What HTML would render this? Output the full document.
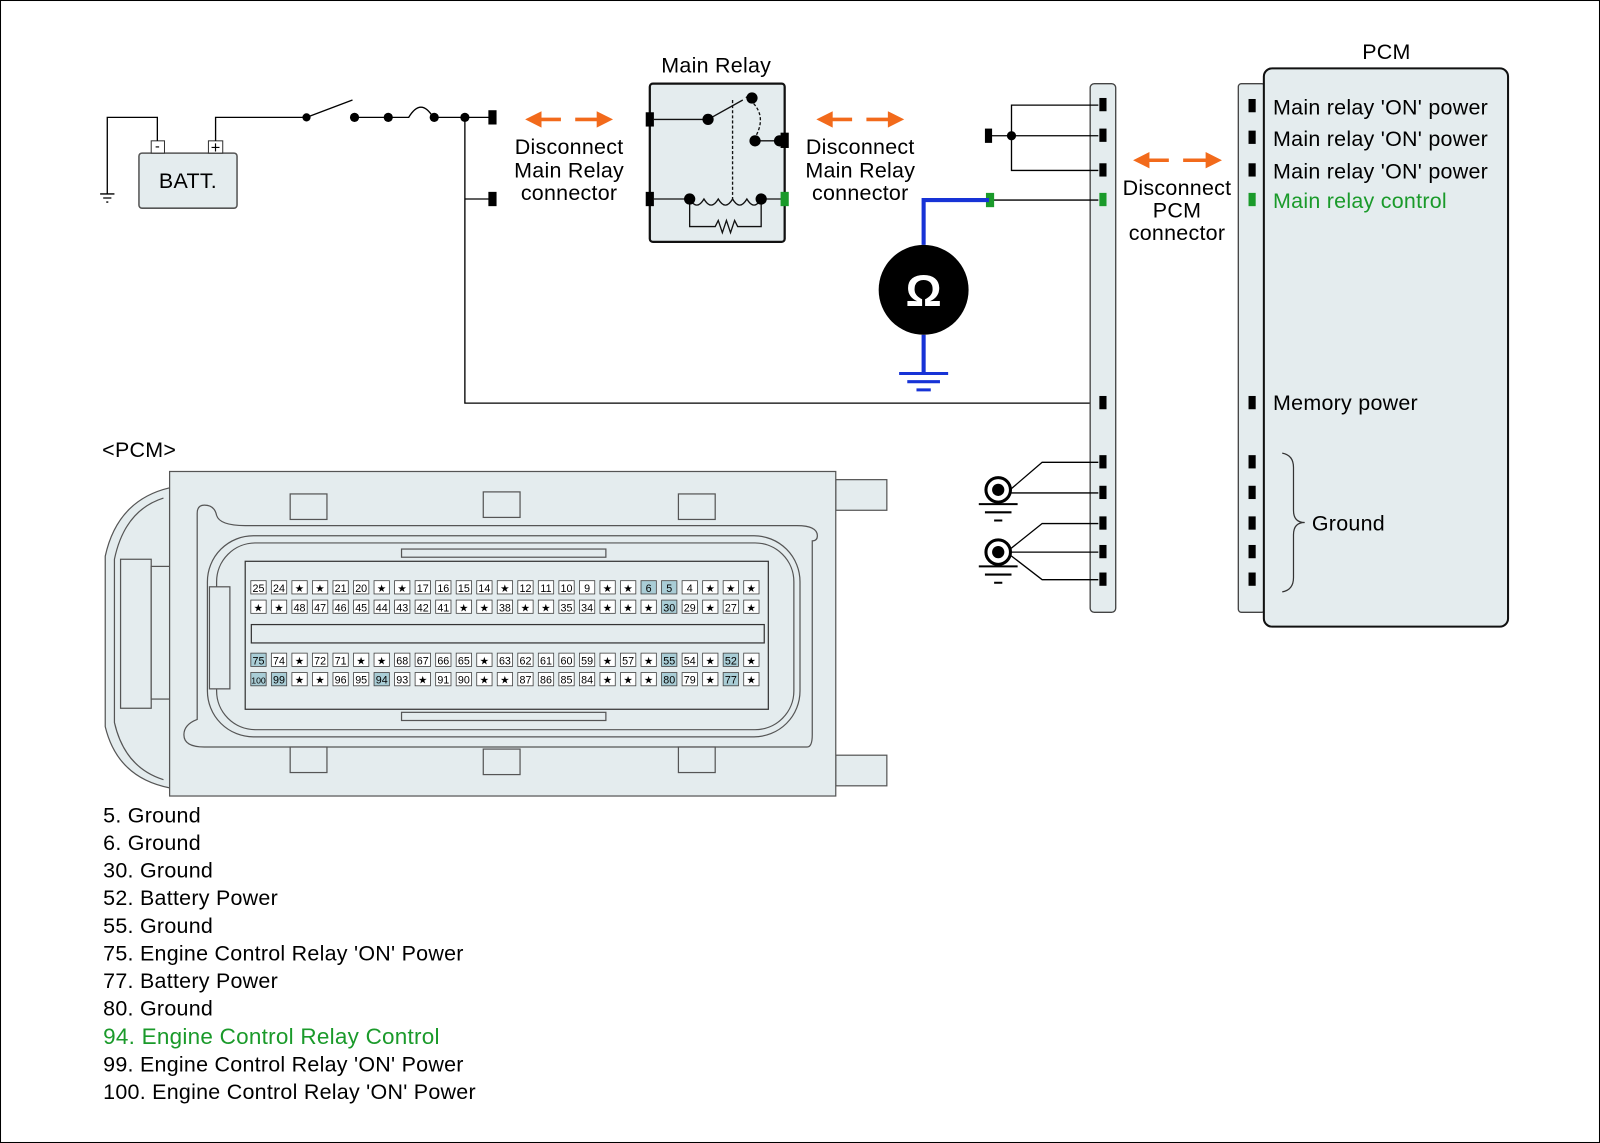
<!DOCTYPE html>
<html><head><meta charset="utf-8"><style>
html,body{margin:0;padding:0;background:#fff}
svg{display:block}
text{font-family:"Liberation Sans",sans-serif;}
.t{font-size:21px;letter-spacing:0.25px}
</style></head><body>
<svg id="s" width="1600" height="1143" viewBox="0 0 1566 1120" preserveAspectRatio="none" xmlns="http://www.w3.org/2000/svg">
<rect x="0.5" y="0.5" width="1565" height="1119" fill="#fff" stroke="#000"/>

<!-- battery -->
<rect x="136" y="150" width="96" height="54" rx="3" fill="#e4ecee" stroke="#555" stroke-width="1.5"/>
<text x="184" y="184" class="t" text-anchor="middle">BATT.</text>
<rect x="148" y="138" width="13" height="12" fill="#fff" stroke="#333"/>
<rect x="204" y="138" width="14" height="12" fill="#fff" stroke="#333"/>
<text x="154" y="148" font-size="14" text-anchor="middle">-</text>
<text x="211" y="150" font-size="16" text-anchor="middle">+</text>
<g stroke="#000" stroke-width="1.3" fill="none">
<path d="M154,138 V115 H105 V190"/>
<path d="M98,190 H112 M101,194 H109 M104,198 H106"/>
<path d="M211,138 V115 H300"/>
<path d="M300,115 L345,98"/>
<path d="M347,115 H380"/>
<path d="M380,115 H400 Q412,95 424,115 H480"/>
<path d="M455,115 V395 H1075"/>
<path d="M455,195 H480"/>
</g>
<g fill="#000">
<circle cx="300" cy="115" r="4"/><circle cx="347" cy="115" r="4.5"/><circle cx="380" cy="115" r="4.5"/><circle cx="425" cy="115" r="4.5"/><circle cx="455" cy="115" r="4.5"/>
<rect x="478" y="108" width="8" height="14"/><rect x="478" y="188" width="8" height="14"/>
</g>

<!-- orange arrows -->
<g stroke="#f26a1b" stroke-width="3.5" fill="none">
<line x1="528" y1="117" x2="549" y2="117"/><line x1="563" y1="117" x2="586" y2="117"/>
<line x1="813" y1="117" x2="834" y2="117"/><line x1="848" y1="117" x2="871" y2="117"/>
<line x1="1123" y1="157" x2="1144" y2="157"/><line x1="1158" y1="157" x2="1182" y2="157"/>
</g>
<g fill="#f26a1b">
<path d="M514,117 L530,109 L530,125 Z"/><path d="M600,117 L584,109 L584,125 Z"/>
<path d="M799,117 L815,109 L815,125 Z"/><path d="M885,117 L869,109 L869,125 Z"/>
<path d="M1109,157 L1125,149 L1125,165 Z"/><path d="M1196,157 L1180,149 L1180,165 Z"/>
</g>
<g class="t" text-anchor="middle">
<text x="557" y="151">Disconnect</text><text x="557" y="174">Main Relay</text><text x="557" y="196">connector</text>
<text x="842" y="151">Disconnect</text><text x="842" y="174">Main Relay</text><text x="842" y="196">connector</text>
<text x="1152" y="191">Disconnect</text><text x="1152" y="213">PCM</text><text x="1152" y="235">connector</text>
</g>

<!-- main relay -->
<text x="701" y="71" class="t" text-anchor="middle">Main Relay</text>
<rect x="636" y="82" width="132" height="155" rx="3" fill="#e4ecee" stroke="#111" stroke-width="2.2"/>
<g stroke="#111" stroke-width="1.3" fill="none">
<path d="M640,117 H693"/>
<path d="M693,117 L727,98"/>
<path d="M730,95 Q752,110 740,133" stroke-dasharray="3,2"/>
<path d="M740,138 H765"/>
<path d="M717,98 V195" stroke-dasharray="3,2"/>
<path d="M640,195 H675 M745,195 H765"/>
<path d="M675,195 q7,12 14,0 q7,12 14,0 q7,12 14,0 q7,12 14,0 q7,12 14,0"/>
<path d="M675,195 V222 H700 l3,-6 l4,12 l4,-12 l4,12 l4,-12 l3,6 H745 V195"/>
</g>
<g fill="#000">
<circle cx="693" cy="117" r="5.5"/><circle cx="736" cy="96" r="5.5"/><circle cx="739" cy="138" r="5.5"/><circle cx="763" cy="138" r="5.5"/>
<circle cx="675" cy="195" r="5.5"/><circle cx="745" cy="195" r="5.5"/>
<rect x="632" y="110" width="8" height="14"/><rect x="764" y="130" width="8" height="15"/><rect x="632" y="188" width="8" height="14"/>
</g>
<rect x="764" y="188" width="8" height="14" fill="#1a9a2a"/>

<!-- middle connector bar -->
<rect x="1067" y="82" width="25" height="518" rx="4" fill="#e4ecee" stroke="#444" stroke-width="1.3"/>
<g stroke="#000" stroke-width="1.3" fill="none">
<path d="M1075,103 H990 V167 H1075"/>
<path d="M965,133 H1075"/>
<path d="M968,196 H1075"/>
<path d="M1075,453 H1020 L985,483 M985,483 H1075"/>
<path d="M1075,513 H1020 L985,541 H1075 M985,541 L1020,568 H1075"/>
</g>
<circle cx="990" cy="133" r="4.5"/>
<rect x="964" y="126" width="7" height="14"/>
<rect x="965" y="189" width="8" height="14" fill="#1a9a2a"/>
<g fill="#000">
<rect x="1076" y="96" width="7" height="13"/><rect x="1076" y="126" width="7" height="13"/><rect x="1076" y="160" width="7" height="13"/>
<rect x="1076" y="388" width="7" height="13"/><rect x="1076" y="446" width="7" height="13"/><rect x="1076" y="476" width="7" height="13"/>
<rect x="1076" y="506" width="7" height="13"/><rect x="1076" y="534" width="7" height="13"/><rect x="1076" y="561" width="7" height="13"/>
</g>
<rect x="1076" y="189" width="7" height="13" fill="#1a9a2a"/>
<!-- grounds -->
<g>
<circle cx="977" cy="480" r="12" fill="#fff" stroke="#000" stroke-width="3"/><circle cx="977" cy="480" r="6"/>
<path d="M958,494 H996 M964,502 H990 M973,510 H981" stroke="#000" stroke-width="2"/>
<circle cx="977" cy="541" r="12" fill="#fff" stroke="#000" stroke-width="3"/><circle cx="977" cy="541" r="6"/>
<path d="M958,555 H996 M964,563 H990 M973,571 H981" stroke="#000" stroke-width="2"/>
</g>

<!-- ohmmeter -->
<path d="M968,196 H904 V240 M904,328 V365" stroke="#1733d6" stroke-width="4" fill="none"/>
<path d="M880,366 H928 M888,374 H920 M897,382 H911" stroke="#1733d6" stroke-width="3"/>
<circle cx="904" cy="284" r="44" fill="#000"/>
<text x="904" y="300" font-size="44" fill="#fff" text-anchor="middle" font-weight="bold">Ω</text>

<!-- PCM -->
<text x="1357" y="58" class="t" text-anchor="middle">PCM</text>
<rect x="1212" y="82" width="26" height="518" rx="3" fill="#e4ecee" stroke="#444" stroke-width="1.3"/>
<rect x="1237" y="67" width="239" height="547" rx="8" fill="#e4ecee" stroke="#111" stroke-width="2"/>
<g fill="#000">
<rect x="1222" y="97" width="7" height="13"/><rect x="1222" y="128" width="7" height="13"/><rect x="1222" y="160" width="7" height="13"/>
<rect x="1222" y="388" width="7" height="13"/><rect x="1222" y="446" width="7" height="13"/><rect x="1222" y="476" width="7" height="13"/>
<rect x="1222" y="506" width="7" height="13"/><rect x="1222" y="534" width="7" height="13"/><rect x="1222" y="561" width="7" height="13"/>
</g>
<rect x="1222" y="189" width="7" height="13" fill="#1a9a2a"/>
<g class="t">
<text x="1246" y="112">Main relay 'ON' power</text>
<text x="1246" y="143">Main relay 'ON' power</text>
<text x="1246" y="175">Main relay 'ON' power</text>
<text x="1246" y="204" fill="#1a9a2a">Main relay control</text>
<text x="1246" y="402">Memory power</text>
<text x="1284" y="520">Ground</text>
</g>
<path d="M1255,444 Q1266,446 1266,458 V500 Q1266,512 1277,512 Q1266,512 1266,524 V566 Q1266,578 1255,580" fill="none" stroke="#333" stroke-width="1.2"/>

<!-- PCM connector drawing -->
<text x="100" y="448" class="t">&lt;PCM&gt;</text>
<g stroke="#555" stroke-width="1.2" fill="#e4ecee">
<path d="M166,478 Q115,490 103,545 V712 Q115,762 166,772 Z"/>
<path d="M160,488 Q122,500 112,548 V708 Q122,752 160,764" fill="none"/>
<rect x="118" y="548" width="30" height="146"/>
<rect x="148" y="555" width="18" height="130"/>
<rect x="818" y="470" width="50" height="30"/>
<rect x="818" y="740" width="50" height="30"/>
<rect x="166" y="462" width="652" height="318"/>
<path d="M193,503 Q193,495 200,495 Q210,495 212,505 Q215,515 240,515 H780 Q800,515 800,525 Q800,530 795,530 V720 Q795,732 790,732 H200 Q180,732 180,720 Q180,710 193,705 Z" fill="#e4ecee"/>
<rect x="203" y="525" width="580" height="197" rx="45" fill="#e4ecee"/>
<rect x="212" y="532" width="565" height="183" rx="38" fill="#e4ecee"/>
<rect x="240" y="550" width="512" height="145" fill="#e4ecee" stroke="#333"/>
<rect x="246" y="612" width="502" height="18" fill="#e4ecee" stroke="#333"/>
<rect x="284" y="484" width="36" height="25"/><rect x="473" y="482" width="36" height="25"/><rect x="664" y="484" width="36" height="25"/>
<rect x="284" y="732" width="36" height="25"/><rect x="473" y="734" width="36" height="25"/><rect x="664" y="732" width="36" height="25"/>
<rect x="393" y="538" width="200" height="8"/><rect x="393" y="698" width="200" height="8"/>
<rect x="205" y="575" width="20" height="100" fill="#e4ecee"/>
</g>
<g id="pins" font-size="10.5" text-anchor="middle"></g>

<!-- legend -->
<g class="t">
<text x="101" y="806">5. Ground</text>
<text x="101" y="833">6. Ground</text>
<text x="101" y="860">30. Ground</text>
<text x="101" y="887">52. Battery Power</text>
<text x="101" y="914">55. Ground</text>
<text x="101" y="941">75. Engine Control Relay 'ON' Power</text>
<text x="101" y="968">77. Battery Power</text>
<text x="101" y="995">80. Ground</text>
<text x="101" y="1023" fill="#1a9a2a" style="font-size:22px">94. Engine Control Relay Control</text>
<text x="101" y="1050">99. Engine Control Relay 'ON' Power</text>
<text x="101" y="1077">100. Engine Control Relay 'ON' Power</text>
</g>
</svg>
<script>
var rows=[
[576,"25 24 * * 21 20 * * 17 16 15 14 * 12 11 10 9 * * 6 5 4 * * *",["6","5"]],
[595,"* * 48 47 46 45 44 43 42 41 * * 38 * * 35 34 * * * 30 29 * 27 *",["30"]],
[647,"75 74 * 72 71 * * 68 67 66 65 * 63 62 61 60 59 * 57 * 55 54 * 52 *",["75","55","52"]],
[666,"100 99 * * 96 95 94 93 * 91 90 * * 87 86 85 84 * * * 80 79 * 77 *",["100","99","94","80","77"]]];
var g=document.getElementById('pins'),h='';
rows.forEach(function(r){var it=r[1].split(' ');it.forEach(function(t,i){var x=253+i*20.1;var hl=r[2].indexOf(t)>=0;
h+='<rect x="'+(x-7.5)+'" y="'+(r[0]-7)+'" width="15" height="13" fill="'+(hl?'#a9cdd6':'#fff')+'" stroke="#444" stroke-width="0.8"/>';
h+='<text x="'+x+'" y="'+(r[0]+4)+'" font-size="'+(t.length>2?8.5:10.5)+'">'+(t=='*'?'★':t)+'</text>';});});
g.innerHTML=h;
</script>
</body></html>
